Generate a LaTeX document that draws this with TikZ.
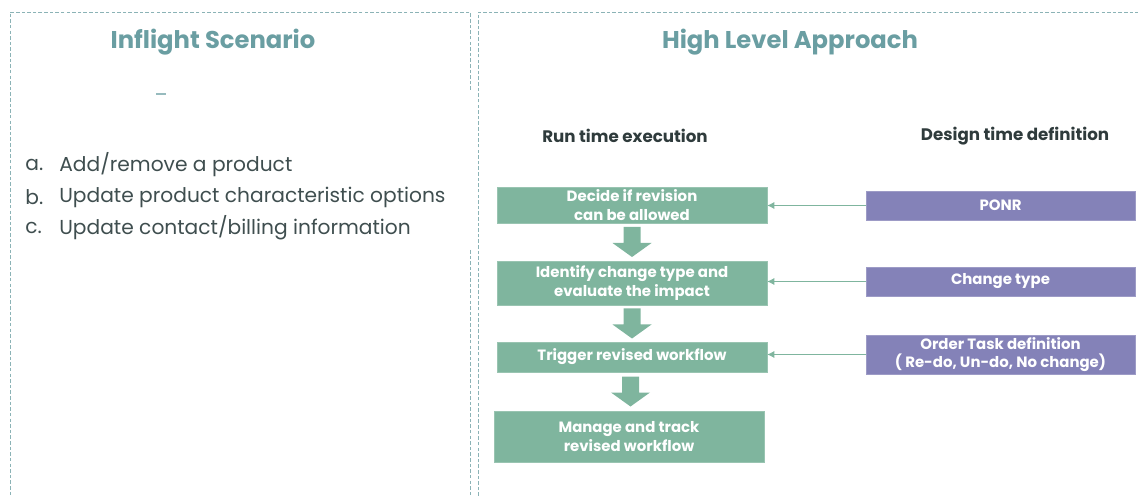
\documentclass[tikz,border=0pt]{standalone}
\usepackage{fontspec}
\setmainfont{Poppins}
\usetikzlibrary{arrows.meta,positioning,calc}
\definecolor{titleteal}{HTML}{6A9EA2}
\definecolor{frame}{HTML}{8BB3B6}
\definecolor{listtext}{HTML}{3F4E4F}
\definecolor{headtext}{HTML}{2F3B3C}
\definecolor{runfill}{HTML}{7FB59E}
\definecolor{designfill}{HTML}{8482B8}

% block arrow from the bottom of one box down to the next
\newcommand{\downflow}[2]{%
  \coordinate (mid) at ($(#1.south)!0.5!(#2.north)$);
  \fill[runfill] ($(mid)+(-8.5,-15)$) -- ($(mid)+(8.5,-15)$) -- ($(mid)+(8.5,1)$)
    -- ($(mid)+(19.5,1)$) -- ($(mid)+(0,15)$) -- ($(mid)+(-19.5,1)$)
    -- ($(mid)+(-8.5,1)$) -- cycle;}

\begin{document}
\begin{tikzpicture}[
  x=0.02cm, y=-0.02cm,
  every node/.style={font=\small},
  title/.style={font=\fontsize{13.8}{16}\selectfont\bfseries, text=titleteal},
  colhead/.style={font=\fontsize{9.5}{11}\selectfont\bfseries, text=headtext},
  item/.style={font=\fontsize{11.5}{13}\selectfont, text=listtext, anchor=west, inner sep=0pt},
  runbox/.style={fill=runfill, draw=runfill!80!white, text=white, align=center,
    font=\fontsize{8.5}{10.6}\selectfont\bfseries, minimum width=5.4cm, inner sep=1pt},
  designbox/.style={fill=designfill, draw=designfill!80!white, text=white, align=center,
    font=\fontsize{8.5}{10.6}\selectfont\bfseries, minimum width=5.38cm, inner sep=1pt},
  link/.style={draw=runfill, thin, -{Latex[length=1.4mm, width=1.4mm]}},
  border/.style={draw=frame, dash pattern=on 2pt off 1.2pt, line width=0.5pt}
]
  \useasboundingbox (0,0) rectangle (1138,496);

  % panel frames
  \draw[border] (470,90) -- (470,12) -- (10,12) -- (10,496);
  \draw[border] (470,250) -- (470,496);
  \draw[border] (478,496) -- (478,12) -- (1138,12);
  \draw[draw=titleteal!70, line width=1pt] (156,94) -- (166,94);

  % titles
  \node[title] (inflight) at (213,42) {Inflight Scenario};
  \node[title] (approach) at (790,42) {High Level Approach};

  % scenario list
  \foreach \yy/\lbl/\txt in {165/a./Add\slash remove a product,
      197/b./Update product characteristic options,
      228/c./Update contact\slash billing information}{
    \node[item] at (25,\yy) {\lbl};
    \node[item] at (59,\yy) {\txt};
  }

  % column headers
  \node[colhead] (runtime) at (625,136) {Run time execution};
  \node[colhead] (designtime) at (1015,136) {Design time definition};

  % run time steps
  \node[runbox, minimum height=0.72cm] (decide) at (632,205) {Decide if revision\\can be allowed};
  \node[runbox, minimum height=0.88cm] (identify) at (632,283) {Identify change type and\\evaluate the impact};
  \node[runbox, minimum height=0.6cm] (trigger) at (632,357) {Trigger revised workflow};
  \node[runbox, minimum height=1.02cm] (manage) at (629,436.5) {Manage and track\\revised workflow};

  \downflow{decide}{identify}
  \downflow{identify}{trigger}
  \downflow{trigger}{manage}

  % design time definitions
  \node[designbox, minimum height=0.58cm] (ponr) at (1000.5,205.5) {PONR};
  \node[designbox, minimum height=0.58cm] (ctype) at (1000.5,281.5) {Change type};
  \node[designbox, minimum height=0.78cm] (otask) at (1000.5,354.5) {Order Task definition\\( Re-do, Un-do, No change)};

  \draw[link] (ponr.west) -- (ponr.west -| decide.east);
  \draw[link] (ctype.west) -- (ctype.west -| identify.east);
  \draw[link] (otask.west) -- (otask.west -| trigger.east);
\end{tikzpicture}
\end{document}
